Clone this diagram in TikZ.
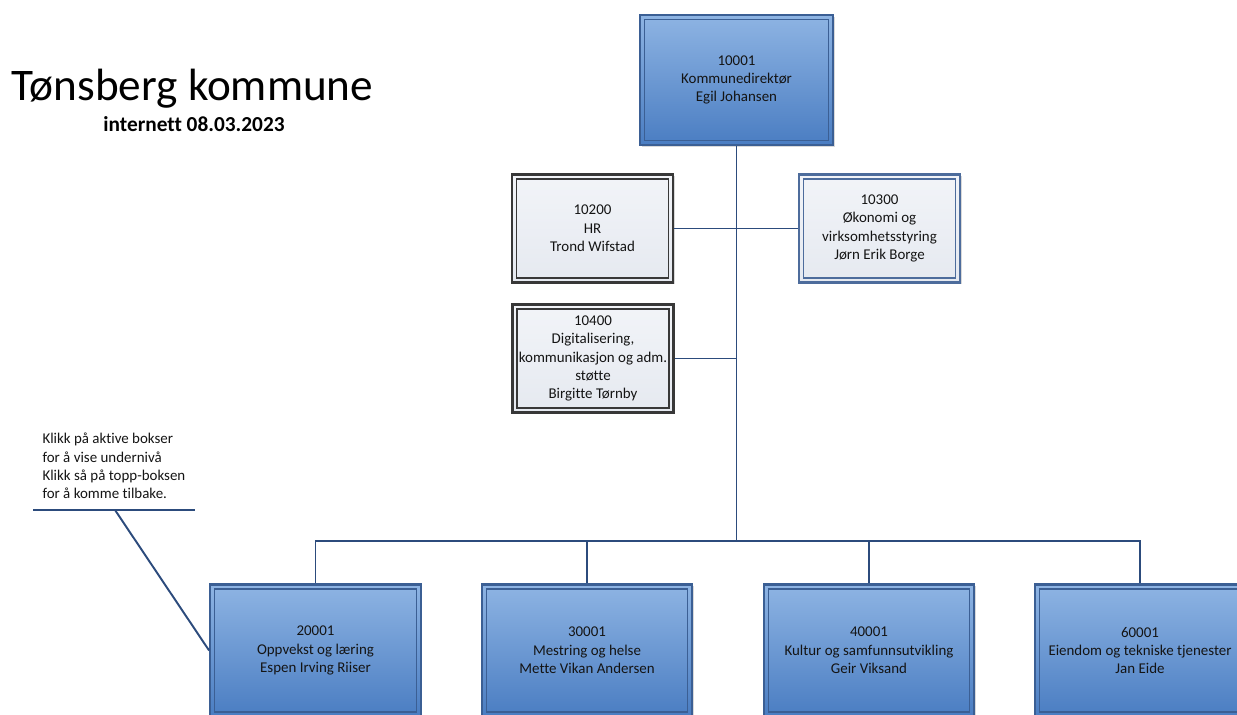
\documentclass[tikz,border=0pt]{standalone}
\usepackage{fontspec}
\setmainfont[RawFeature={-liga;-clig;-calt;-dlig}]{Carlito}
\usetikzlibrary{shadows}

\definecolor{orgline}{HTML}{2C4B7C}
\definecolor{bluetop}{HTML}{8EB4E3}
\definecolor{bluebot}{HTML}{4A7DC2}
\definecolor{blueedge}{HTML}{3B5F94}
\definecolor{greytop}{HTML}{F2F4F8}
\definecolor{greybot}{HTML}{E5E9F0}
\definecolor{greyedge}{HTML}{383838}
\definecolor{staffblue}{HTML}{4D6C9C}

\newcommand{\boxfont}{\fontsize{11.2}{13.8}\selectfont}

\tikzset{
  unit/.style={rectangle, draw=blueedge, line width=1.6pt,
    top color=bluetop, bottom color=bluebot, align=center, inner sep=1pt,
    font=\boxfont, text=black!92,
    minimum width=158pt, minimum height=99pt,
    drop shadow={shadow xshift=1.2pt, shadow yshift=-1.2pt, opacity=0.3},
    path picture={\draw[blueedge, line width=0.9pt]
      ([shift={(3.4pt,-3.4pt)}]path picture bounding box.north west) rectangle
      ([shift={(-3.4pt,3.4pt)}]path picture bounding box.south east);}},
  staff/.style={rectangle, draw=#1, line width=1.6pt,
    top color=greytop, bottom color=greybot, align=center, inner sep=1pt,
    font=\boxfont, text=black!92,
    minimum width=120.75pt, minimum height=81pt,
    drop shadow={shadow xshift=1.2pt, shadow yshift=-1.2pt, opacity=0.3},
    path picture={\draw[#1, line width=0.9pt]
      ([shift={(3.4pt,-3.4pt)}]path picture bounding box.north west) rectangle
      ([shift={(-3.4pt,3.4pt)}]path picture bounding box.south east);}},
  staff/.default=greyedge,
  conn/.style={orgline, line width=1.45pt},
  note/.style={align=left, font=\boxfont, text=black!92,
    inner xsep=6.75pt, inner ysep=8pt, minimum width=121pt}
}

\begin{document}
\begin{tikzpicture}[x=0.75pt, y=-0.75pt]
  \useasboundingbox (0,0) rectangle (1237,714);
  \clip (0,0) rectangle (1237,714);

  % Title
  \node[anchor=base, font=\fontsize{33.9}{40}\selectfont] (title) at (192.5,100) {Tønsberg kommune};
  \node[anchor=base, font=\fontsize{16}{19}\selectfont\bfseries] (subtitle) at (194,131) {internett 08.03.2023};

  % Top
  \node[unit, minimum width=144.75pt, minimum height=97.5pt] (dir) at (736.5,80)
    {10001\\Kommunedirektør\\Egil Johansen};

  % Staff
  \node[staff] (hr) at (592.5,228.5) {10200\\HR\\Trond Wifstad};
  \node[staff=staffblue] (oko) at (879.5,228.5) {10300\\Økonomi og\\virksomhetsstyring\\Jørn Erik Borge};
  \node[staff] (dig) at (593,358.5) {10400\\Digitalisering,\\kommunikasjon og adm.\\støtte\\Birgitte Tørnby};

  % Areas
  \node[unit] (a20) at (315.5,650.5) {20001\\Oppvekst og læring\\Espen Irving Riiser};
  \node[unit] (a30) at (587,650.5) {30001\\Mestring og helse\\Mette Vikan Andersen};
  \node[unit] (a40) at (869,650.5) {40001\\Kultur og samfunnsutvikling\\Geir Viksand};
  \node[unit] (a60) at (1140,650.5) {60001\\Eiendom og tekniske tjenester\\Jan Eide};

  % Lines
  \coordinate (bus) at (736.5,541);
  \draw[conn] (dir.south) -- (bus);
  \draw[conn] (hr.east) -- (hr.east -| bus);
  \draw[conn] (oko.west) -- (oko.west -| bus);
  \draw[conn] (dig.east) -- (dig.east -| bus);
  \draw[conn] (a20.north) |- (bus) -| (a60.north);
  \draw[conn] (a30.north) -- (a30.north |- bus);
  \draw[conn] (a40.north) -- (a40.north |- bus);

  % Note
  \node[note, anchor=south west] (note) at (33,510)
    {Klikk på aktive bokser\\for å vise undernivå\\Klikk så på topp-boksen\\for å komme tilbake.};
  \draw[conn] (note.south west) -- (note.south east);
  \coordinate (tip) at (115,510);
  \draw[conn] (tip) -- (a20.west);
\end{tikzpicture}
\end{document}
